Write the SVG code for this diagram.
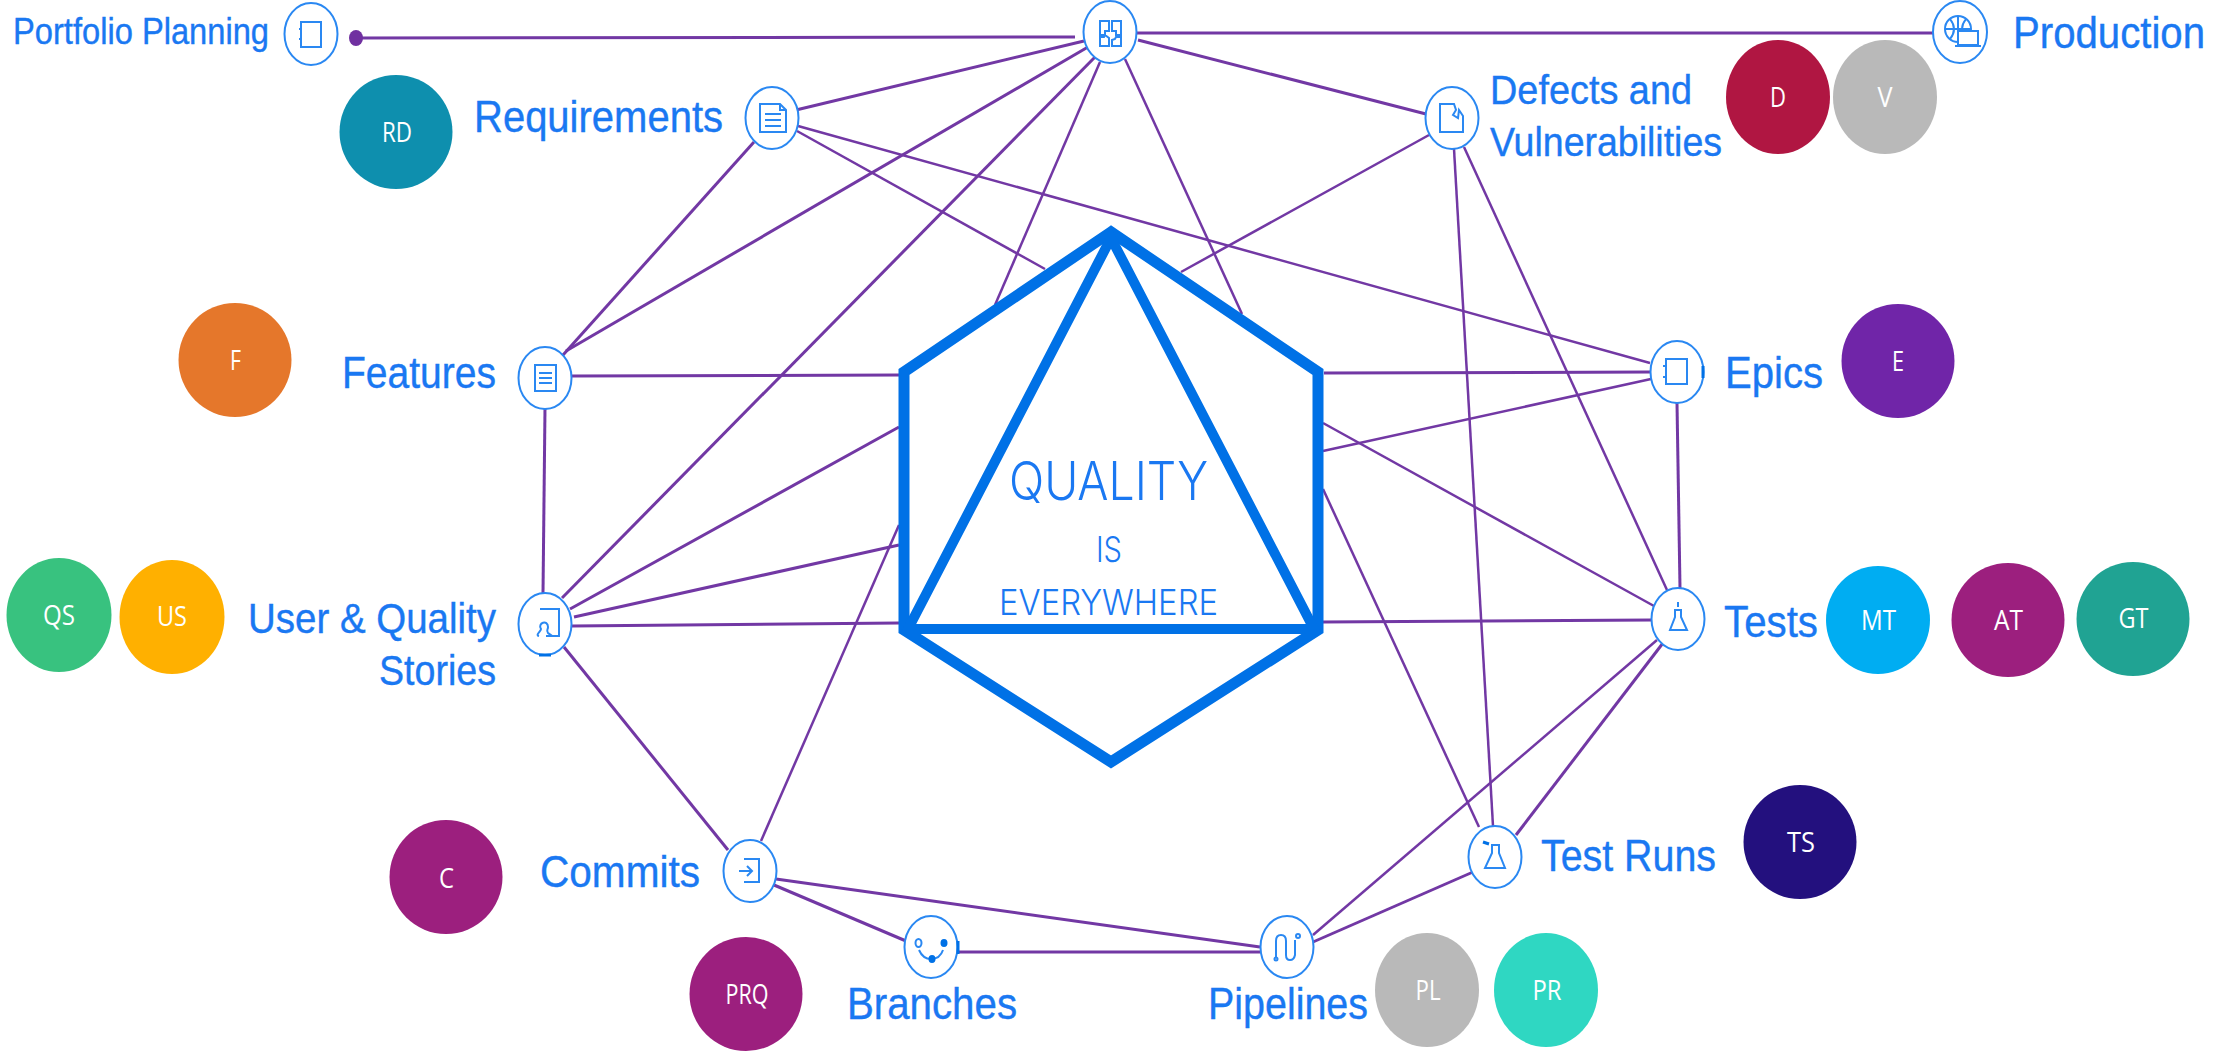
<svg xmlns="http://www.w3.org/2000/svg" width="2231" height="1051" viewBox="0 0 2231 1051">
<style>
.c line{stroke:#7238a4;stroke-width:3;fill:none}
.c .t{stroke-width:2.5}
.ring{fill:#fff;stroke:#2a88f2;stroke-width:2}
.ic{fill:none;stroke:#2a88f2;stroke-width:2}
.lbl{font-family:"Liberation Sans",Arial,sans-serif;font-size:45px;fill:#1a78f2;stroke:#1a78f2;stroke-width:.4}
.sm{font-family:"Open Sans","Liberation Sans",sans-serif;font-size:28px;fill:#fff;text-anchor:middle}
.q{font-family:Inter,"Liberation Sans",sans-serif;font-weight:300;fill:#1a78f2;text-anchor:middle}
</style>
<rect width="2231" height="1051" fill="#fff"/>
<g id="connectors" class="c">
<line x1="356" y1="38" x2="1075" y2="37"/>
<line x1="1137" y1="33" x2="1936" y2="33"/>
<line x1="1084" y1="41" x2="796" y2="110"/>
<line x1="1088" y1="47" x2="566" y2="351"/>
<line x1="1098" y1="54" x2="562" y2="598"/>
<line class="t" x1="1100" y1="62" x2="995" y2="305"/>
<line class="t" x1="1125" y1="59" x2="1242" y2="314"/>
<line x1="1138" y1="40" x2="1426" y2="114"/>
<line x1="754" y1="142" x2="563" y2="355"/>
<line class="t" x1="797" y1="131" x2="1045" y2="269"/>
<line class="t" x1="798" y1="126" x2="1650" y2="363"/>
<line x1="1324" y1="373" x2="1650" y2="372"/>
<line class="t" x1="1651" y1="379" x2="1323" y2="451"/>
<line x1="1677" y1="403" x2="1680" y2="588"/>
<line class="t" x1="1429" y1="135" x2="1181" y2="272"/>
<line class="t" x1="1464" y1="147" x2="1667" y2="590"/>
<line class="t" x1="1454" y1="149" x2="1493" y2="826"/>
<line class="t" x1="1323" y1="423" x2="1654" y2="606"/>
<line class="t" x1="1323" y1="489" x2="1479" y2="827"/>
<line x1="1323" y1="622" x2="1652" y2="620"/>
<line class="t" x1="1657" y1="640" x2="1313" y2="935"/>
<line x1="1663" y1="643" x2="1516" y2="835"/>
<line x1="1473" y1="872" x2="1313" y2="942"/>
<line x1="776" y1="879" x2="1260" y2="947"/>
<line x1="958" y1="952" x2="1260" y2="952"/>
<line x1="774" y1="885" x2="906" y2="941"/>
<line x1="564" y1="647" x2="728" y2="850"/>
<line class="t" x1="761" y1="841" x2="899" y2="525"/>
<line x1="574" y1="617" x2="899" y2="545"/>
<line x1="570" y1="609" x2="899" y2="427"/>
<line x1="543" y1="593" x2="545" y2="408"/>
<line x1="572" y1="626" x2="899" y2="623"/>
<line x1="572" y1="376" x2="899" y2="375"/>
</g>
<ellipse cx="356" cy="38" rx="7" ry="8" fill="#7030a0"/>
<g id="centre">
<path d="M1111 232L904 372V630L1111 762L1318 630V372Z" fill="none" stroke="#0071e6" stroke-width="11" stroke-linejoin="miter"/>
<path d="M1111 238L908 629H1314Z" fill="none" stroke="#0071e6" stroke-width="10" stroke-linejoin="miter"/>
<text class="q" x="1108.500" y="500" font-size="53" textLength="199" lengthAdjust="spacingAndGlyphs">QUALITY</text>
<text class="q" x="1109" y="562" font-size="36" textLength="26" lengthAdjust="spacingAndGlyphs">IS</text>
<text class="q" x="1108.500" y="615" font-size="35" textLength="219" lengthAdjust="spacingAndGlyphs">EVERYWHERE</text>
</g>
<g id="portfolio"><ellipse class="ring" cx="311" cy="34" rx="26.500" ry="31"/><path class="ic" d="M301 22h20v25h-20zM299 29h3M299 39h3"/><text class="lbl" x="13" y="44" style="font-size:37px" textLength="256" lengthAdjust="spacingAndGlyphs">Portfolio Planning</text></g>
<g id="hub"><ellipse class="ring" cx="1110" cy="32" rx="26.500" ry="31"/><path class="ic" d="M1100 21h9v10h-4v4h-5zM1112 21h9v14h-5v-4h-4zM1100 37h4l1-2 4 3v8h-9zM1116 37h5v9h-9v-6l3-1z"/></g>
<g id="production"><ellipse class="ring" cx="1960" cy="32" rx="27" ry="31"/><circle class="ic" cx="1958" cy="29" r="13"/><path class="ic" d="M1945 29h26M1958 16v26M1950 19q8 10 0 20M1966 19q-8 10 0 20"/><rect x="1958" y="31" width="20" height="14" fill="#fff" stroke="#2a88f2" stroke-width="2"/><path class="ic" d="M1955 46h26"/><text class="lbl" x="2013" y="48" textLength="192" lengthAdjust="spacingAndGlyphs">Production</text></g>
<g id="requirements"><ellipse class="ring" cx="772" cy="118" rx="26.500" ry="31"/><path class="ic" d="M760 104h20l6 6v22h-26zM780 104v6h6M765 114h16M765 120h16M765 126h16"/><text class="lbl" x="474" y="132" textLength="249" lengthAdjust="spacingAndGlyphs">Requirements</text><ellipse cx="396" cy="132" rx="56.500" ry="57" fill="#0e8fae"/><text class="sm" x="397" y="142" textLength="30" lengthAdjust="spacingAndGlyphs">RD</text></g>
<g id="features"><ellipse class="ring" cx="545" cy="378" rx="26.500" ry="31"/><path class="ic" d="M535 365h21v26h-21zM539 373h13M539 378h13M539 383h13"/><text class="lbl" x="342" y="388" textLength="154" lengthAdjust="spacingAndGlyphs">Features</text><ellipse cx="235" cy="360" rx="56.500" ry="57" fill="#e5772b"/><text class="sm" x="235.500" y="370" textLength="11" lengthAdjust="spacingAndGlyphs">F</text></g>
<g id="defects"><ellipse class="ring" cx="1452" cy="118" rx="26.500" ry="31"/><path class="ic" d="M1440 104h14l2 6-3 5 5 3 1-8 4 6v16h-23z"/><text class="lbl" x="1490" y="104" style="font-size:41px" textLength="202" lengthAdjust="spacingAndGlyphs">Defects and</text><text class="lbl" x="1490" y="156" style="font-size:41px" textLength="232" lengthAdjust="spacingAndGlyphs">Vulnerabilities</text><ellipse cx="1778" cy="97" rx="52" ry="57" fill="#b01642"/><text class="sm" x="1778" y="107" textLength="16" lengthAdjust="spacingAndGlyphs">D</text><ellipse cx="1885" cy="97" rx="52" ry="57" fill="#b9b9b9"/><text class="sm" x="1885" y="107" textLength="15" lengthAdjust="spacingAndGlyphs">V</text></g>
<g id="epics"><ellipse class="ring" cx="1677" cy="372" rx="26.500" ry="31"/><path class="ic" d="M1666 359h21v25h-21zM1663 366h4M1663 377h4"/><path d="M1703 366v12" stroke="#0071e6" stroke-width="3"/><text class="lbl" x="1725" y="388" textLength="98" lengthAdjust="spacingAndGlyphs">Epics</text><ellipse cx="1898" cy="361" rx="56.500" ry="57" fill="#7025a8"/><text class="sm" x="1898" y="371" textLength="12" lengthAdjust="spacingAndGlyphs">E</text></g>
<g id="stories"><ellipse class="ring" cx="545" cy="624" rx="26.500" ry="31"/><path class="ic" d="M540 609h19v27h-13M539 636c-4-1 2-5 2-7-4-6 7-10 7-2 0 3-2 3 0 6 2 2 4 2 4 3"/><path d="M539 655h12" stroke="#0071e6" stroke-width="3"/><text class="lbl" x="248" y="633" style="font-size:43px" textLength="248" lengthAdjust="spacingAndGlyphs">User &amp; Quality</text><text class="lbl" x="379" y="685" style="font-size:43px" textLength="117" lengthAdjust="spacingAndGlyphs">Stories</text><ellipse cx="59" cy="615" rx="52.500" ry="57" fill="#38c27f"/><text class="sm" x="59" y="625" textLength="32" lengthAdjust="spacingAndGlyphs">QS</text><ellipse cx="172" cy="617" rx="52.500" ry="57" fill="#ffb000"/><text class="sm" x="172" y="626" textLength="30" lengthAdjust="spacingAndGlyphs">US</text></g>
<g id="commits"><ellipse class="ring" cx="750" cy="871" rx="26.500" ry="31"/><path class="ic" d="M744 859h15v23h-15M739 871h12M747 866l5 5-5 5"/><text class="lbl" x="540" y="887" textLength="160" lengthAdjust="spacingAndGlyphs">Commits</text><ellipse cx="446" cy="877" rx="56.500" ry="57" fill="#9c1f7e"/><text class="sm" x="446.500" y="888" textLength="15" lengthAdjust="spacingAndGlyphs">C</text><ellipse cx="746" cy="994" rx="56.500" ry="57" fill="#9c1f7e"/><text class="sm" x="747" y="1004" textLength="43" lengthAdjust="spacingAndGlyphs">PRQ</text></g>
<g id="branches"><ellipse class="ring" cx="931" cy="947" rx="26.500" ry="31"/><path class="ic" d="M919 950q4 9 12 9M931 959q9 0 12-9"/><ellipse cx="918.500" cy="943" rx="3" ry="4" fill="#fff" stroke="#2a88f2" stroke-width="2"/><ellipse cx="944" cy="943" rx="3.500" ry="4" fill="#0071e6"/><ellipse cx="932" cy="959" rx="3.500" ry="4" fill="#0071e6"/><path d="M958 941v13" stroke="#0071e6" stroke-width="3"/><text class="lbl" x="847" y="1019" textLength="170" lengthAdjust="spacingAndGlyphs">Branches</text></g>
<g id="pipelines"><ellipse class="ring" cx="1287" cy="947" rx="26.500" ry="31"/><path class="ic" d="M1276 957v-16q0-6 5-6t5 6v14q0 5 4 5t5-5v-15"/><circle class="ic" cx="1276" cy="959" r="1.500"/><circle class="ic" cx="1298" cy="936" r="2"/><text class="lbl" x="1208" y="1019" textLength="160" lengthAdjust="spacingAndGlyphs">Pipelines</text><ellipse cx="1427" cy="990" rx="52" ry="57" fill="#b9b9b9"/><text class="sm" x="1428" y="1000" textLength="25" lengthAdjust="spacingAndGlyphs">PL</text><ellipse cx="1546" cy="990" rx="52" ry="57" fill="#2fd7c2"/><text class="sm" x="1547" y="1000" textLength="29" lengthAdjust="spacingAndGlyphs">PR</text></g>
<g id="testruns"><ellipse class="ring" cx="1495" cy="857" rx="26.500" ry="31"/><path class="ic" d="M1492 845h7v8l6 15h-20l7-15z"/><path d="M1483 842l6 2" stroke="#0071e6" stroke-width="3"/><text class="lbl" x="1541" y="871" textLength="175" lengthAdjust="spacingAndGlyphs">Test Runs</text><ellipse cx="1800" cy="842" rx="56.500" ry="57" fill="#23107e"/><text class="sm" x="1801" y="852" textLength="28" lengthAdjust="spacingAndGlyphs">TS</text></g>
<g id="tests"><ellipse class="ring" cx="1678" cy="619" rx="26.500" ry="31"/><path class="ic" d="M1675 610h6v7l6 13h-17l5-13zM1678 602v5"/><text class="lbl" x="1724" y="637" textLength="94" lengthAdjust="spacingAndGlyphs">Tests</text><ellipse cx="1878" cy="620" rx="52" ry="54" fill="#00adf2"/><text class="sm" x="1878.500" y="630" textLength="35" lengthAdjust="spacingAndGlyphs">MT</text><ellipse cx="2008" cy="620" rx="56.500" ry="57" fill="#9c1f7e"/><text class="sm" x="2008.500" y="630" textLength="29" lengthAdjust="spacingAndGlyphs">AT</text><ellipse cx="2133" cy="619" rx="56.500" ry="57" fill="#20a393"/><text class="sm" x="2133.500" y="628" textLength="30" lengthAdjust="spacingAndGlyphs">GT</text></g>
</svg>
